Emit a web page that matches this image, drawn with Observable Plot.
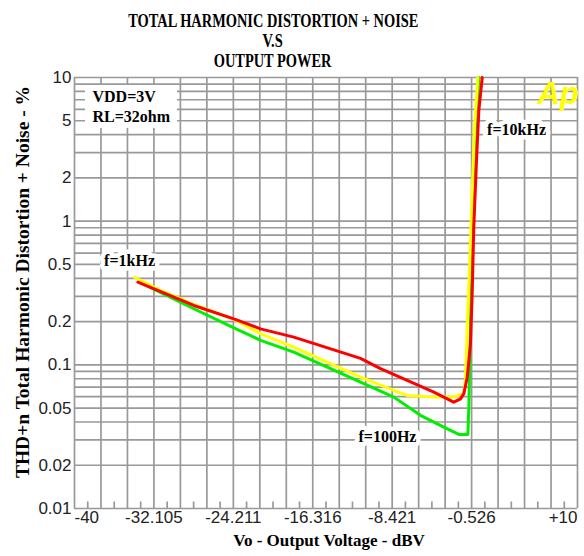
<!DOCTYPE html>
<html>
<head>
<meta charset="utf-8">
<script src="https://cdn.jsdelivr.net/npm/d3@7"></script>
<script src="https://cdn.jsdelivr.net/npm/@observablehq/plot@0.6"></script>
<style>
  html, body { margin: 0; padding: 0; background: #fff; }
  #wrap { width: 584px; height: 556px; position: relative; overflow: hidden; background: #fff; }
  #title { position: relative; width: 584px; height: 66px; font: bold 18px "Liberation Serif", "Times New Roman", serif; color: #000; z-index: 2; }
  #title div { position: absolute; left: 0; width: 546px; text-align: center; line-height: 18px; white-space: nowrap; }
  #title span { display: inline-block; transform: scaleX(0.8); transform-origin: 50% 50%; }
  #chart svg { display: block; }
</style>
</head>
<body>
<div id="wrap">
  <div id="title">
    <div style="top:12px"><span>TOTAL HARMONIC DISTORTION + NOISE</span></div>
    <div style="top:32px"><span>V.S</span></div>
    <div style="top:52px"><span>OUTPUT POWER</span></div>
  </div>
  <div id="chart"></div>
</div>
<script>
// ---- tick labels ----
const xTickValues = [-40, -32.105, -24.211, -16.316, -8.421, -0.526, 10];
const xTickText = ["-40", "-32.105", "-24.211", "-16.316", "-8.421", "-0.526", "+10"];
const yTickValues = [10, 5, 2, 1, 0.5, 0.2, 0.1, 0.05, 0.02, 0.01];
const yTickText = ["10", "5", "2", "1", "0.5", "0.2", "0.1", "0.05", "0.02", "0.01"];

// ---- series (Vo in dBV, THD+N in %) ----
const redX = [-33.7, -28.14, -24.16, -21.5, -18.2, -14.22, -11.57, -9.58, -6.93, -4.28, -2.3, -1.63, -1.30, -0.96, -0.64, -0.47, -0.31, -0.04, 0.19, 0.53];
const redY = [0.376, 0.259, 0.209, 0.178, 0.156, 0.127, 0.111, 0.094, 0.0778, 0.0646, 0.055, 0.058, 0.063, 0.082, 0.140, 0.312, 0.908, 2.64, 5.89, 10];

const yellowX = [-34.04, -31.45, -28.14, -24.16, -21.5, -18.2, -14.88, -11.57, -8.26, -6.93, -4.28, -2.3, -1.30, -1.13, -0.96, -0.70, -0.47, -0.24, 0.09];
const yellowY = [0.407, 0.33, 0.263, 0.207, 0.1645, 0.133, 0.1045, 0.0821, 0.0664, 0.0612, 0.0596, 0.0598, 0.063, 0.082, 0.183, 0.532, 1.55, 4.51, 10];

const greenX = [-33.0, -28.14, -24.16, -21.5, -18.2, -14.88, -11.57, -8.26, -5.61, -3.29, -1.80, -0.90, -0.80, -0.64, -0.47, -0.14, 0.19];
const greenY = [0.36, 0.2456, 0.181, 0.148, 0.1226, 0.0964, 0.0758, 0.0596, 0.0445, 0.0369, 0.0328, 0.0328, 0.0508, 0.183, 0.908, 3.46, 10];

// ---- annotations ----
const freqLabels = ["f=1kHz", "f=10kHz", "f=100Hz"];
const freqLabelX = [-34.53, 3.94, -8.89];
const freqLabelY = [0.533, 4.31, 0.0314];
const condText = ["VDD=3V", "RL=32ohm"];
const condX = [-38.21, -38.21];
const condY = [7.38, 5.36];
const condBox = {x1: -38.91, x2: -29.76, y1: 4.42, y2: 8.8};
const logo = {text: "Ap", x: 6.02, y: 6.49};

// ---- grid ----
const xGrid = d3.range(20).map(i => -40 + i * 50 / 19);
const xMinor = d3.range(19).map(i => -40 + (i + 0.5) * 50 / 19);
const yGrid = [0.01, 0.1, 1].flatMap(d => d3.range(1, 10).map(k => +(k * d).toPrecision(3))).concat([10]);

const toRows = (xs, ys) => xs.map((x, i) => ({x, y: ys[i]}));
const red = toRows(redX, redY);
const yellow = toRows(yellowX, yellowY);
const green = toRows(greenX, greenY);
const labels = freqLabels.map((t, i) => ({text: t, x: freqLabelX[i], y: freqLabelY[i]}));
const cond = condText.map((t, i) => ({text: t, x: condX[i], y: condY[i]}));
const xt = xTickValues.map((v, i) => ({v, t: xTickText[i], i}));

const serif = "'Liberation Serif', 'Times New Roman', serif";
const sans = "'Liberation Sans', Arial, sans-serif";
const gridColor = "#999";

const chart = Plot.plot({
  width: 584,
  height: 490,
  marginTop: 11,
  marginLeft: 74,
  marginRight: 7,
  marginBottom: 48,
  x: {domain: [-40, 10], axis: null},
  y: {type: "log", domain: [0.01, 10], axis: null},
  style: {background: "#fff", fontFamily: sans, overflow: "visible"},
  marks: [
    Plot.ruleX(xGrid, {x: d => d, stroke: gridColor, strokeWidth: 1.7}),
    Plot.ruleY(yGrid, {y: d => d, stroke: gridColor, strokeWidth: 1.7}),
    Plot.ruleX(xMinor, {x: d => d, y1: 0.01, y2: 0.0111, stroke: gridColor, strokeWidth: 1.7}),
    Plot.rect([condBox], {x1: "x1", x2: "x2", y1: "y1", y2: "y2", fill: "#fff"}),
    Plot.line(green, {x: "x", y: "y", stroke: "#00ee00", strokeWidth: 3}),
    Plot.line(yellow, {x: "x", y: "y", stroke: "#ffff00", strokeWidth: 3}),
    Plot.line(red, {x: "x", y: "y", stroke: "#ff0000", strokeWidth: 3}),
    Plot.text(cond, {x: "x", y: "y", text: "text", textAnchor: "start", fontFamily: serif, fontWeight: "bold", fontSize: 16, fill: "#000"}),
    Plot.text(labels, {x: "x", y: "y", text: "text", fontFamily: serif, fontWeight: "bold", fontSize: 16, fill: "#000",
      stroke: "#fff", strokeWidth: 9, paintOrder: "stroke"}),
    Plot.text([logo], {x: "x", y: "y", text: "text", textAnchor: "start", lineAnchor: "bottom", fill: "#ffff00",
      fontSize: 31, fontWeight: "bold", fontStyle: "italic", fontFamily: sans}),
    // y tick labels
    Plot.text(yTickValues, {y: d => d, text: (d, i) => yTickText[i], frameAnchor: "left", textAnchor: "end", dx: -3,
      fontSize: 17, fill: "#222"}),
    // x tick labels
    Plot.text(xt.filter(d => d.i === 0), {x: "v", text: "t", frameAnchor: "bottom", textAnchor: "start", dy: 14, fontSize: 17, fill: "#222"}),
    Plot.text(xt.filter(d => d.i > 0 && d.i < xt.length - 1), {x: "v", text: "t", frameAnchor: "bottom", dy: 14, fontSize: 17, fill: "#222"}),
    Plot.text(xt.filter(d => d.i === xt.length - 1), {x: "v", text: "t", frameAnchor: "bottom", textAnchor: "end", dy: 14, fontSize: 17, fill: "#222"}),
    // axis titles
    Plot.text(["Vo - Output Voltage - dBV"], {frameAnchor: "bottom", textAnchor: "middle", dy: 37, dx: 3, fontFamily: serif, fontWeight: "bold", fontSize: 17, fill: "#000"}),
    Plot.text(["THD+n Total Harmonic Distortion + Noise - %"], {frameAnchor: "left", textAnchor: "middle", rotate: -90, dx: -52, dy: -11,
      fontFamily: serif, fontWeight: "bold", fontSize: 19.5, fill: "#000"})
  ]
});
document.getElementById("chart").appendChild(chart);
</script>
</body>
</html>
